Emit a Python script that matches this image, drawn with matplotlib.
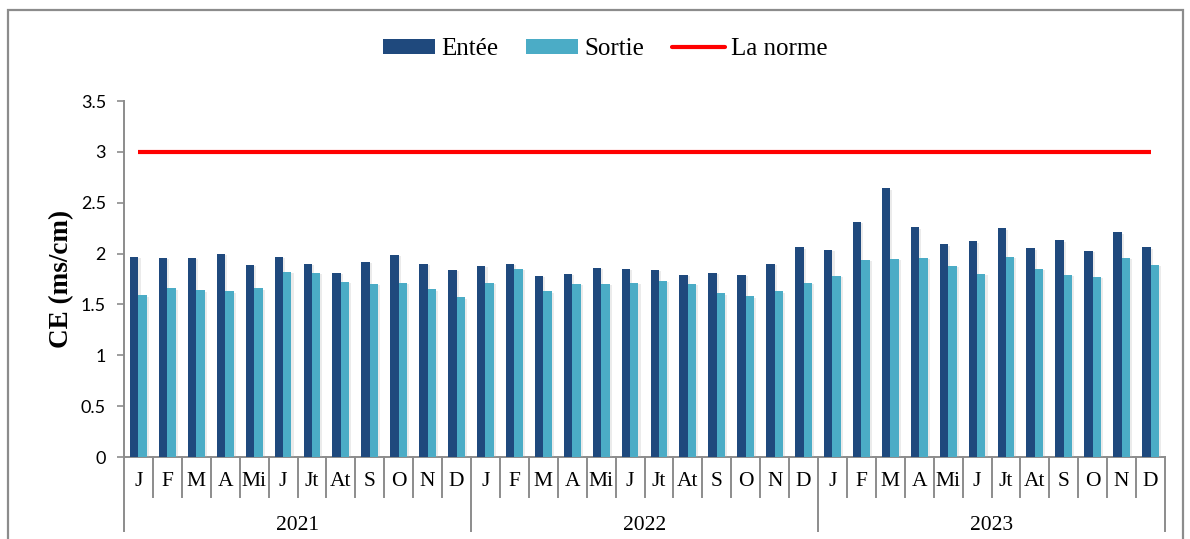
import matplotlib
matplotlib.use("Agg")
import matplotlib.pyplot as plt
import matplotlib.patheffects as pe
from matplotlib.patches import Rectangle, Patch
from matplotlib.lines import Line2D
from matplotlib.transforms import blended_transform_factory
import numpy as np

# ---- data -------------------------------------------------------------
years = ["2021", "2022", "2023"]
months = ["J", "F", "M", "A", "Mi", "J", "Jt", "At", "S", "O", "N", "D"]

entree = [1.97, 1.96, 1.96, 2.00, 1.89, 1.97, 1.90, 1.81, 1.92, 1.99, 1.90, 1.84,
          1.88, 1.90, 1.78, 1.80, 1.86, 1.85, 1.84, 1.79, 1.81, 1.79, 1.90, 2.06,
          2.04, 2.31, 2.64, 2.26, 2.09, 2.12, 2.25, 2.05, 2.13, 2.03, 2.21, 2.06]
sortie = [1.59, 1.66, 1.64, 1.63, 1.66, 1.82, 1.81, 1.72, 1.70, 1.71, 1.65, 1.57,
          1.71, 1.85, 1.63, 1.70, 1.70, 1.71, 1.73, 1.70, 1.61, 1.58, 1.63, 1.71,
          1.78, 1.94, 1.95, 1.96, 1.88, 1.80, 1.97, 1.85, 1.79, 1.77, 1.96, 1.89]
norme = 3.0

series_labels = ["Entée", "Sortie", "La norme"]
y_ticks = [0, 0.5, 1, 1.5, 2, 2.5, 3, 3.5]
y_label = "CE (ms/cm)"

# ---- styling ----------------------------------------------------------
c_in = "#1F497D"
c_out = "#4BACC6"
c_red = "#FF0000"
c_axis = "#8C8C8C"
serif = "Liberation Serif"
sans = "Lato"

W, H = 1190, 539
fig = plt.figure(figsize=(W / 100, H / 100), dpi=100)

# outer chart frame
fig.patches.append(Rectangle((8 / W, -0.05), (1183 - 8) / W, 1.05 - 10 / H,
                             transform=fig.transFigure, fill=False,
                             edgecolor=c_axis, linewidth=1.6))

ax = fig.add_axes([124 / W, 1 - 457 / H, (1165 - 124) / W, (457 - 101) / H])

labels_all = [m for _ in years for m in months]
n = len(labels_all)
x = np.arange(n)
bw = 0.29

shadow = [pe.SimplePatchShadow(offset=(1.5, -1.0), shadow_rgbFace="#b0b0b0", alpha=0.25),
          pe.Normal()]
b1 = ax.bar(x - bw / 2, entree, width=bw, color=c_in, zorder=3)
b2 = ax.bar(x + bw / 2, sortie, width=bw, color=c_out, zorder=3)
for r in list(b1) + list(b2):
    r.set_path_effects(shadow)

ax.plot(x, [norme] * n, color=c_red, linewidth=3.0, solid_capstyle="butt", zorder=4)

ax.set_xlim(-0.5, n - 0.5)
ax.set_ylim(0, 3.5)
ax.set_yticks(y_ticks)
ax.set_yticklabels([f"{v:g}" for v in y_ticks], fontfamily=sans, fontsize=13)
ax.tick_params(axis="y", direction="out", length=5, width=1.2, color=c_axis, pad=8)
ax.set_xticks([])

for s in ["top", "right"]:
    ax.spines[s].set_visible(False)
for s in ["left", "bottom"]:
    ax.spines[s].set_color(c_axis)
    ax.spines[s].set_linewidth(1.4)

ax.set_ylabel(y_label, fontfamily=serif, fontweight="bold", fontsize=19.5, labelpad=5)

# two-level category axis: months, then years
tr = blended_transform_factory(ax.transData, ax.transAxes)
ax_h = 457 - 101
month_bot = -(497 - 457) / ax_h
year_bot = -(531 - 457) / ax_h
month_y = -(482 - 457) / ax_h
year_y = -(525 - 457) / ax_h

for i in range(n + 1):
    xb = i - 0.5
    bottom = year_bot if i % 12 == 0 else month_bot
    ax.add_line(Line2D([xb, xb], [0, bottom], transform=tr, color=c_axis,
                       linewidth=1.4, clip_on=False))
for i, lab in enumerate(labels_all):
    ax.text(i, month_y, lab, transform=tr, ha="center", va="center",
            fontfamily=serif, fontsize=15.5)
for k, yr in enumerate(years):
    ax.text(12 * k + 5.5, year_y, yr, transform=tr, ha="center", va="center",
            fontfamily=serif, fontsize=15.5)

# legend
handles = [Patch(facecolor=c_in), Patch(facecolor=c_out),
           Line2D([], [], color=c_red, linewidth=3.0, solid_capstyle="round")]
fig.legend(handles, series_labels, loc="center", bbox_to_anchor=(605 / W, 1 - 49 / H),
           ncol=3, frameon=False, prop={"family": serif, "size": 18},
           handlelength=2.1, handleheight=0.55, handletextpad=0.25,
           columnspacing=1.1, borderpad=0)

fig.savefig("out.png", dpi=100)
